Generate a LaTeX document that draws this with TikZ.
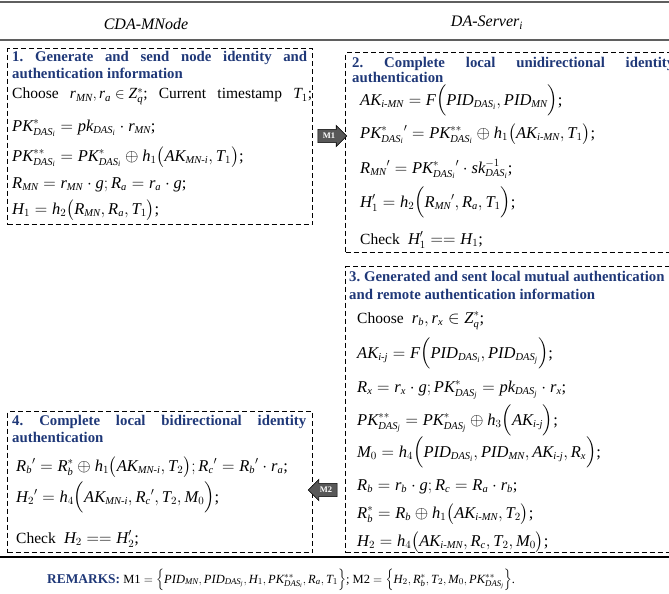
\documentclass[tikz,border=0pt]{standalone}
\usepackage{amsmath}
\usepackage{fontspec}
\setmainfont{Liberation Serif}
\usetikzlibrary{shapes.arrows}

% math letters and digits taken from the serif text face
\DeclareSymbolFont{serifit}{TU}{\rmdefault}{m}{it}
\DeclareSymbolFont{serifup}{TU}{\rmdefault}{m}{n}
\newcount\mathchr
\mathchr=`A \loop \Umathcode\mathchr=7 \symserifit \mathchr \advance\mathchr 1 \ifnum\mathchr<`[ \repeat
\mathchr=`a \loop \Umathcode\mathchr=7 \symserifit \mathchr \advance\mathchr 1 \ifnum\mathchr<`\{ \repeat
\mathchr=`0 \loop \Umathcode\mathchr=0 \symserifup \mathchr \advance\mathchr 1 \ifnum\mathchr<`: \repeat
% smaller indices for the formula lines
\DeclareMathSizes{16.5}{16.5}{10.5}{8}

\newcommand{\wordtxt}[1]{{\fontsize{15.5}{18}\selectfont #1}}

\definecolor{titleblue}{RGB}{31,56,120}
\definecolor{rulegray}{RGB}{95,95,95}
\definecolor{arrowgray}{RGB}{88,88,88}

\tikzset{
  stepframe/.style={draw, dash pattern=on 5pt off 3pt, line width=1.1pt,
    inner sep=0pt, anchor=north west},
  steptitle/.style={anchor=base west, inner sep=0pt, text=titleblue,
    font=\fontsize{14.8}{16}\selectfont\bfseries\frenchspacing},
  eqline/.style={anchor=base west, inner sep=0pt,
    font=\fontsize{16.5}{18}\selectfont},
  partyhead/.style={anchor=base, inner sep=0pt,
    font=\fontsize{16}{16}\selectfont\itshape},
  msgarrow/.style={single arrow, draw=black, fill=arrowgray, line width=0.6pt,
    minimum height=29pt, minimum width=20pt, single arrow head extend=4pt,
    inner xsep=1pt, inner ysep=3.5pt, text=white,
    font=\fontsize{8.5}{8.5}\selectfont\bfseries},
  sectionrule/.style={line width=1.6pt, draw=rulegray},
}

\begin{document}
\begin{tikzpicture}[x=1pt, y=-1pt]
  \useasboundingbox (0,0) rectangle (669,594);
  \clip (0,0) rectangle (669,594);

  % column headers and rules
  \draw[sectionrule] (0,2) -- (669,2);
  \draw[sectionrule] (0,40) -- (669,40);
  \draw[line width=1.3pt] (0,557) -- (669,557);
  \node[partyhead] (hmn) at (146,30) {CDA-MNode};
  \node[partyhead] (hsrv) at (487,27) {DA-Server$_i$};

  % step frames
  \node[stepframe, minimum width=305, minimum height=176] (box1) at (7,48) {};
  \node[stepframe, minimum width=331, minimum height=200] (box2) at (345,52) {};
  \node[stepframe, minimum width=331, minimum height=286] (box3) at (345,266) {};
  \node[stepframe, minimum width=305, minimum height=141] (box4) at (7,411) {};

  % step 1
  \node[steptitle] (t1a) at (12,62) {\makebox[295pt][s]{1. Generate and send node identity and}};
  \node[steptitle] (t1b) at (12,78) {authentication information};
  \node[eqline] (e1a) at (12,99) {\wordtxt{\makebox[300pt][s]{Choose \mbox{$r_{MN},r_a\in Z_q^{*}$;} Current timestamp \mbox{$T_1$;}}}};
  \node[eqline] (e1b) at (12,131) {$PK^{*}_{DAS_i}=pk_{DAS_i}\cdot r_{MN}$;};
  \node[eqline] (e1c) at (12,161) {$PK^{**}_{DAS_i}=PK^{*}_{DAS_i}\oplus h_1\bigl(AK_{MN\text{-}i},T_1\bigr)$;};
  \node[eqline] (e1d) at (12,188) {$R_{MN}=r_{MN}\cdot g;R_a=r_a\cdot g$;};
  \node[eqline] (e1e) at (12,214) {$H_1=h_2\bigl(R_{MN},R_a,T_1\bigr)$;};

  % step 2
  \node[steptitle] (t2a) at (352,67) {\makebox[322pt][s]{2. Complete local unidirectional identity}};
  \node[steptitle] (t2b) at (352,82) {authentication};
  \node[eqline] (e2a) at (360,105) {$AK_{i\text{-}MN}=F\Bigl(PID_{DAS_i},PID_{MN}\Bigr)$;};
  \node[eqline] (e2b) at (360,138) {$PK^{*}_{DAS_i}{}^{\prime}=PK^{**}_{DAS_i}\oplus h_1\bigl(AK_{i\text{-}MN},T_1\bigr)$;};
  \node[eqline] (e2c) at (360,173) {$R_{MN}{}^{\prime}=PK^{*}_{DAS_i}{}^{\prime}\cdot sk^{-1}_{DAS_i}$;};
  \node[eqline] (e2d) at (360,207) {$H_1^{\prime}=h_2\Bigl(R_{MN}{}^{\prime},R_a,T_1\Bigr)$;};
  \node[eqline] (e2e) at (360,244) {\wordtxt{Check} \ $H_1^{\prime}==H_1$;};

  % step 3
  \node[steptitle] (t3a) at (349,281) {3. Generated and sent local mutual authentication};
  \node[steptitle] (t3b) at (349,299) {and remote authentication information};
  \node[eqline] (e3a) at (357,323) {\wordtxt{Choose} \ $r_b,r_x\in Z_q^{*}$;};
  \node[eqline] (e3b) at (357,358) {$AK_{i\text{-}j}=F\Bigl(PID_{DAS_i},PID_{DAS_j}\Bigr)$;};
  \node[eqline] (e3c) at (357,392) {$R_x=r_x\cdot g;PK^{*}_{DAS_j}=pk_{DAS_j}\cdot r_x$;};
  \node[eqline] (e3d) at (357,425) {$PK^{**}_{DAS_j}=PK^{*}_{DAS_j}\oplus h_3\Bigl(AK_{i\text{-}j}\Bigr)$;};
  \node[eqline] (e3e) at (357,457) {$M_0=h_4\Bigl(PID_{DAS_i},PID_{MN},AK_{i\text{-}j},R_x\Bigr)$;};
  \node[eqline] (e3f) at (357,490) {$R_b=r_b\cdot g;R_c=R_a\cdot r_b$;};
  \node[eqline] (e3g) at (357,518) {$R_b^{*}=R_b\oplus h_1\bigl(AK_{i\text{-}MN},T_2\bigr)$;};
  \node[eqline] (e3h) at (357,546) {$H_2=h_4\bigl(AK_{i\text{-}MN},R_c,T_2,M_0\bigr)$;};

  % step 4
  \node[steptitle] (t4a) at (12,425) {\makebox[294pt][s]{4. Complete local bidirectional identity}};
  \node[steptitle] (t4b) at (12,442) {authentication};
  \node[eqline] (e4a) at (16,471) {$R_b{}^{\prime}=R_b^{*}\oplus h_1\bigl(AK_{MN\text{-}i},T_2\bigr);R_c{}^{\prime}=R_b{}^{\prime}\cdot r_a$;};
  \node[eqline] (e4b) at (16,502) {$H_2{}^{\prime}=h_4\Bigl(AK_{MN\text{-}i},R_c{}^{\prime},T_2,M_0\Bigr)$;};
  \node[eqline] (e4c) at (16,543) {\wordtxt{Check} \ $H_2==H_2^{\prime}$;};

  % exchanged messages
  \node[msgarrow] (m1) at (329,136) {M1};
  \node[msgarrow, shape border rotate=180] (m2) at (326,490) {M2};

  % remarks
  \node[anchor=base west, inner sep=0pt, font=\fontsize{12.5}{14}\selectfont] (rem) at (47,583)
    {\textcolor{titleblue}{\bfseries\fontsize{13.4}{14}\selectfont REMARKS:} M1 $=\Bigl\{PID_{MN},PID_{DAS_j},H_1,PK^{**}_{DAS_i},R_a,T_1\Bigr\}$; M2 $=\Bigl\{H_2,R_b^{*},T_2,M_0,PK^{**}_{DAS_j}\Bigr\}$.};
\end{tikzpicture}
\end{document}
